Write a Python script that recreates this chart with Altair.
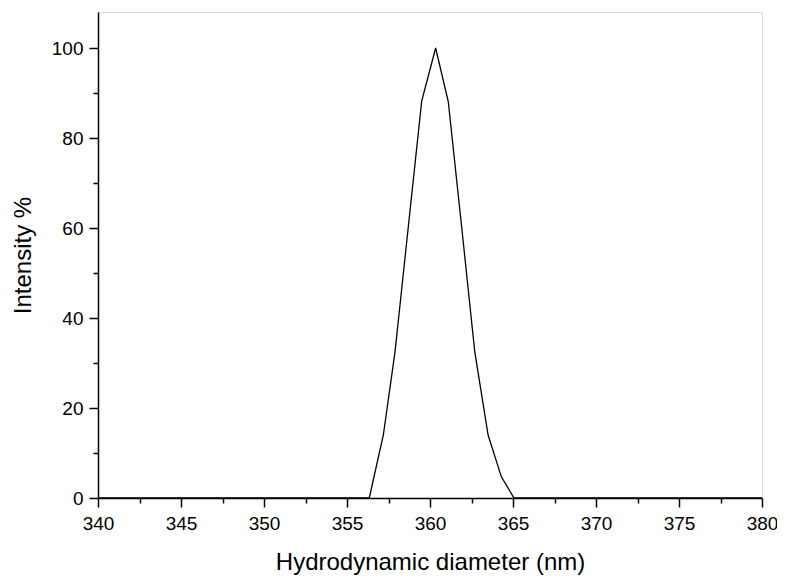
import altair as alt
import pandas as pd

# Data
diameter = [340.0, 356.34, 357.19, 357.89, 358.70, 359.50, 360.34, 361.10, 361.90, 362.70, 363.50, 364.30, 365.06, 380.0]
intensity = [0.0, 0.0, 14.0, 32.4, 60.5, 88.2, 100.0, 88.1, 60.5, 32.4, 14.0, 4.7, 0.0, 0.0]

x_major = [340, 345, 350, 355, 360, 365, 370, 375, 380]
x_minor = [342.5, 347.5, 352.5, 357.5, 362.5, 367.5, 372.5, 377.5]
y_major = [0, 20, 40, 60, 80, 100]
y_minor = [10, 30, 50, 70, 90]

df = pd.DataFrame({"d": diameter, "i": intensity})

FONT = "Liberation Sans"
xscale = alt.Scale(domain=[340, 380], nice=False, zero=False)
yscale = alt.Scale(domain=[0, 108], nice=False)

main = alt.Chart(df).mark_line(color="black", strokeWidth=1.3).encode(
    x=alt.X("d:Q", scale=xscale,
            axis=alt.Axis(orient="bottom", values=x_major, title="Hydrodynamic diameter (nm)",
                          grid=False, domainColor="black", domainWidth=1.5, tickColor="black",
                          tickWidth=1.5, tickSize=9, labelFont=FONT, labelFontSize=19,
                          labelColor="black", labelPadding=7, labelFlush=False,
                          titleFont=FONT, titleFontSize=24,
                          titleFontWeight="normal", titleColor="black", titlePadding=17,
                          format="d")),
    y=alt.Y("i:Q", scale=yscale,
            axis=alt.Axis(orient="left", values=y_major, title="Intensity %",
                          grid=False, domainColor="black", domainWidth=1.5, tickColor="black",
                          tickWidth=1.5, tickSize=9, labelFont=FONT, labelFontSize=19,
                          labelColor="black", labelPadding=6, labelFlush=False,
                          titleFont=FONT, titleFontSize=24,
                          titleFontWeight="normal", titleColor="black", titlePadding=16,
                          format="d")),
)

minor = alt.Chart(df).mark_line(opacity=0).encode(
    x=alt.X("d:Q", scale=xscale,
            axis=alt.Axis(orient="bottom", values=x_minor, title=None, labels=False, grid=False,
                          domain=False, tickColor="black", tickWidth=1.5, tickSize=5)),
    y=alt.Y("i:Q", scale=yscale,
            axis=alt.Axis(orient="left", values=y_minor, title=None, labels=False, grid=False,
                          domain=False, tickColor="black", tickWidth=1.5, tickSize=5)),
)

chart = alt.layer(main, minor).resolve_axis(x="independent", y="independent").properties(
    width=664, height=486,
    autosize=alt.AutoSizeParams(type="none"),
    padding={"left": 90, "top": 4, "right": 15, "bottom": 82},
).configure_view(stroke=None).configure(background="white")

chart.save("out.html", embed_options={"renderer": "svg", "actions": False})
